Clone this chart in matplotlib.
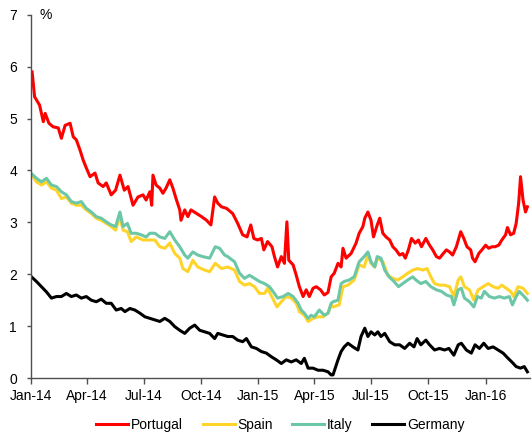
import numpy as np
import matplotlib
matplotlib.use('Agg')
import matplotlib.pyplot as plt
import matplotlib.dates as mdates

plt.rcParams['font.family'] = ['Liberation Sans', 'DejaVu Sans']

# 10-year government bond yields (%); days counted from 2014-01-01
start = np.datetime64('2014-01-01')

pt_days = [2, 6, 14, 20, 23, 29, 36, 44, 49, 55, 63, 68, 73, 79, 84, 89, 95, 103, 108, 116,
           121, 129, 136, 143, 150, 156, 164, 172, 180, 185, 191, 194, 196, 201, 207, 212,
           217, 223, 228, 233, 239, 241, 247, 252, 257, 266, 274, 282, 289, 295, 300, 306,
           314, 324, 332, 340, 347, 353, 358, 364, 370, 374, 380, 387, 391, 396, 402, 407,
           411, 414, 421, 426, 431, 437, 442, 447, 453, 458, 465, 471, 477, 482, 487, 493,
           498, 501, 506, 514, 522, 527, 533, 536, 541, 546, 550, 556, 560, 565, 570, 576,
           581, 586, 592, 597, 601, 606, 611, 617, 622, 627, 634, 640, 645, 651, 656, 662,
           667, 672, 677, 683, 690, 695, 700, 706, 709, 713, 719, 724, 730, 735, 740, 745,
           751, 756, 762, 765, 770, 775, 779, 783, 786, 790, 794, 797]
portugal = [5.90, 5.42, 5.26, 4.94, 5.10, 4.91, 4.84, 4.82, 4.62, 4.87, 4.91, 4.65, 4.59, 4.39,
            4.20, 4.05, 3.88, 3.95, 3.76, 3.69, 3.76, 3.53, 3.62, 3.91, 3.62, 3.69, 3.33, 3.49,
            3.53, 3.43, 3.59, 3.33, 3.91, 3.72, 3.66, 3.56, 3.66, 3.82, 3.66, 3.46, 3.24, 3.04,
            3.24, 3.11, 3.24, 3.17, 3.11, 3.04, 2.95, 3.49, 3.37, 3.30, 3.27, 3.17, 2.98, 2.76,
            2.72, 2.95, 2.69, 2.66, 2.69, 2.47, 2.63, 2.53, 2.34, 2.14, 2.34, 2.21, 3.01, 2.27,
            2.18, 1.98, 1.76, 1.57, 1.70, 1.57, 1.73, 1.76, 1.70, 1.60, 1.65, 1.95, 2.02, 2.21,
            2.14, 2.50, 2.31, 2.40, 2.60, 2.79, 2.92, 3.08, 3.20, 3.04, 2.72, 2.95, 3.08, 2.79,
            2.72, 2.66, 2.53, 2.47, 2.37, 2.40, 2.31, 2.47, 2.69, 2.60, 2.66, 2.53, 2.69, 2.56,
            2.47, 2.34, 2.31, 2.40, 2.47, 2.43, 2.37, 2.53, 2.82, 2.69, 2.53, 2.47, 2.31, 2.24,
            2.40, 2.47, 2.56, 2.50, 2.53, 2.53, 2.56, 2.66, 2.76, 2.90, 2.76, 2.79, 2.98, 3.37,
            3.88, 3.43, 3.20, 3.30]

it_days = [1, 9, 17, 25, 33, 41, 49, 57, 65, 73, 81, 89, 97, 105, 113, 121, 129, 136, 143, 148,
           155, 161, 169, 177, 185, 191, 199, 207, 215, 223, 231, 239, 247, 252, 260, 268, 276,
           287, 296, 303, 311, 316, 327, 335, 343, 351, 359, 367, 375, 383, 391, 396, 405, 413,
           421, 429, 434, 439, 445, 450, 455, 463, 471, 477, 482, 485, 493, 498, 503, 511, 519,
           527, 535, 541, 546, 552, 556, 562, 568, 575, 583, 590, 597, 605, 613, 618, 626, 634,
           642, 651, 659, 667, 675, 679, 686, 691, 696, 704, 711, 717, 723, 728, 736, 744, 752,
           760, 768, 773, 779, 784, 792, 797]
italy = [3.94, 3.85, 3.78, 3.85, 3.72, 3.69, 3.59, 3.53, 3.40, 3.37, 3.40, 3.27, 3.20, 3.11,
         3.08, 3.01, 2.95, 2.92, 3.20, 2.92, 2.98, 2.79, 2.79, 2.76, 2.72, 2.79, 2.79, 2.72, 2.69,
         2.82, 2.66, 2.53, 2.37, 2.31, 2.43, 2.37, 2.34, 2.31, 2.53, 2.50, 2.37, 2.34, 2.24, 2.02,
         1.92, 1.98, 1.92, 1.86, 1.82, 1.76, 1.63, 1.54, 1.57, 1.63, 1.57, 1.44, 1.31, 1.25, 1.15,
         1.21, 1.18, 1.31, 1.21, 1.25, 1.44, 1.47, 1.50, 1.82, 1.86, 1.89, 1.95, 2.24, 2.34, 2.43,
         2.24, 2.14, 2.34, 2.31, 2.08, 1.95, 1.86, 1.76, 1.82, 1.89, 1.95, 1.89, 1.82, 1.86, 1.76,
         1.70, 1.67, 1.60, 1.57, 1.41, 1.70, 1.73, 1.54, 1.47, 1.37, 1.57, 1.54, 1.67, 1.57, 1.54,
         1.57, 1.54, 1.57, 1.41, 1.57, 1.67, 1.57, 1.50]

es_days = [1, 9, 17, 25, 33, 41, 49, 57, 65, 73, 81, 89, 97, 105, 113, 121, 129, 136, 143, 148,
           155, 161, 169, 180, 188, 199, 207, 215, 223, 231, 239, 244, 252, 260, 268, 279, 287,
           296, 306, 316, 327, 335, 343, 351, 359, 367, 375, 380, 388, 395, 402, 410, 418, 426,
           431, 439, 445, 453, 461, 469, 477, 482, 485, 495, 501, 509, 519, 527, 535, 541, 546,
           552, 556, 565, 573, 581, 589, 597, 605, 613, 621, 629, 636, 642, 648, 656, 664, 672,
           679, 686, 690, 696, 704, 711, 718, 726, 734, 742, 750, 756, 763, 770, 775, 782, 790,
           797]
spain = [3.92, 3.78, 3.72, 3.78, 3.66, 3.62, 3.46, 3.49, 3.37, 3.33, 3.33, 3.24, 3.17, 3.08,
         3.04, 2.98, 2.92, 2.85, 3.11, 2.85, 2.82, 2.63, 2.72, 2.66, 2.66, 2.66, 2.53, 2.50, 2.60,
         2.40, 2.31, 2.11, 2.05, 2.27, 2.14, 2.08, 2.05, 2.21, 2.11, 2.14, 2.08, 1.86, 1.79, 1.82,
         1.76, 1.63, 1.63, 1.73, 1.54, 1.37, 1.47, 1.57, 1.54, 1.44, 1.28, 1.21, 1.09, 1.15, 1.18,
         1.18, 1.25, 1.41, 1.37, 1.41, 1.76, 1.79, 1.89, 2.18, 2.14, 2.37, 2.21, 2.14, 2.31, 2.24,
         1.98, 1.92, 1.89, 1.95, 2.02, 2.08, 2.11, 2.08, 2.11, 1.95, 1.82, 1.79, 1.79, 1.76, 1.57,
         1.89, 1.95, 1.76, 1.70, 1.50, 1.70, 1.76, 1.82, 1.76, 1.73, 1.79, 1.73, 1.67, 1.57, 1.76,
         1.73, 1.63]

de_days = [1, 9, 17, 25, 33, 41, 49, 57, 65, 73, 81, 89, 97, 105, 113, 121, 129, 137, 145, 151,
           159, 167, 175, 183, 191, 199, 207, 215, 223, 231, 239, 247, 255, 263, 271, 279, 287,
           295, 300, 308, 316, 324, 332, 340, 346, 354, 362, 370, 378, 386, 394, 402, 410, 418,
           426, 434, 439, 445, 453, 461, 469, 477, 482, 485, 493, 498, 503, 509, 517, 525, 530,
           536, 541, 546, 552, 557, 562, 568, 576, 584, 592, 600, 608, 615, 620, 626, 634, 640,
           648, 656, 664, 671, 679, 686, 691, 699, 707, 713, 720, 727, 734, 742, 750, 758, 766,
           772, 779, 786, 792, 797]
germany = [1.95, 1.86, 1.76, 1.66, 1.54, 1.57, 1.57, 1.63, 1.57, 1.60, 1.54, 1.57, 1.50, 1.47,
           1.52, 1.44, 1.44, 1.31, 1.34, 1.28, 1.34, 1.31, 1.25, 1.18, 1.15, 1.12, 1.09, 1.15,
           1.09, 0.99, 0.92, 0.86, 0.96, 1.02, 0.92, 0.89, 0.86, 0.76, 0.86, 0.83, 0.80, 0.80,
           0.73, 0.70, 0.76, 0.60, 0.57, 0.51, 0.48, 0.41, 0.35, 0.28, 0.35, 0.31, 0.35, 0.28,
           0.38, 0.19, 0.19, 0.15, 0.15, 0.12, 0.06, 0.06, 0.35, 0.51, 0.60, 0.67, 0.60, 0.54,
           0.80, 0.96, 0.80, 0.89, 0.83, 0.89, 0.80, 0.86, 0.70, 0.64, 0.64, 0.57, 0.67, 0.60,
           0.76, 0.64, 0.73, 0.64, 0.54, 0.57, 0.54, 0.57, 0.44, 0.64, 0.67, 0.54, 0.48, 0.64,
           0.57, 0.67, 0.57, 0.60, 0.54, 0.48, 0.38, 0.31, 0.22, 0.19, 0.22, 0.12]

series = [('Portugal', pt_days, portugal, '#ff0000'),
          ('Spain', es_days, spain, '#ffd42a'),
          ('Italy', it_days, italy, '#6cc7a7'),
          ('Germany', de_days, germany, '#000000')]

fig = plt.figure(figsize=(5.32, 4.36), dpi=100)
ax = fig.add_axes([0.058, 0.133, 0.938, 0.833])

for name, days, vals, col in series:
    dates = start + np.array(days).astype('timedelta64[D]')
    ax.plot(dates, vals, color=col, lw=2.2, label=name, solid_joinstyle='round')

ax.set_ylim(0, 7)
ax.set_yticks(range(8))
ax.set_xlim(start, start + np.timedelta64(801, 'D'))
ax.xaxis.set_major_locator(mdates.MonthLocator(bymonth=[1, 4, 7, 10]))
ax.xaxis.set_major_formatter(mdates.DateFormatter('%b-%y'))

for s in ['top', 'right']:
    ax.spines[s].set_visible(False)
for s in ['left', 'bottom']:
    ax.spines[s].set_color('#505050')
    ax.spines[s].set_linewidth(1.0)
ax.tick_params(axis='y', length=3, width=1, color='#505050', pad=7, labelsize=10)
ax.tick_params(axis='x', length=4, width=1, color='#505050', pad=4, labelsize=10)

ax.text(0.018, 1.0, '%', transform=ax.transAxes, fontsize=10, va='center')

ax.legend(loc='center', bbox_to_anchor=(0.5, -0.128), ncol=4, frameon=False, fontsize=10,
          handlelength=2.3, handletextpad=0.2, columnspacing=1.4)

fig.savefig('out.png', dpi=100)
